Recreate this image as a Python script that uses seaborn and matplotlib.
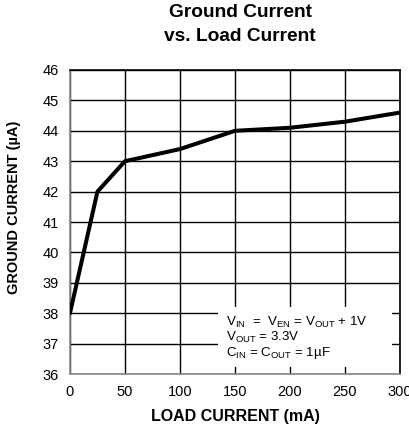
import numpy as np
import pandas as pd
import matplotlib
matplotlib.use("Agg")
import matplotlib.pyplot as plt
from matplotlib.patches import Rectangle
import seaborn as sns

load_ma = [0, 25, 50, 100, 150, 200, 250, 300]
ground_ua = [38.0, 42.0, 43.0, 43.4, 44.0, 44.1, 44.3, 44.6]
x_ticks = [0, 50, 100, 150, 200, 250, 300]
y_ticks = [36, 37, 38, 39, 40, 41, 42, 43, 44, 45, 46]

sns.set_style("white")
plt.rcParams['font.family'] = ['Liberation Sans', 'DejaVu Sans']
plt.rcParams['mathtext.default'] = 'regular'
plt.rcParams['text.color'] = 'black'
plt.rcParams['axes.labelcolor'] = 'black'
plt.rcParams['xtick.color'] = 'black'
plt.rcParams['ytick.color'] = 'black'

df = pd.DataFrame({"load": load_ma, "ground": ground_ua})

fig = plt.figure(figsize=(4.09, 4.32), dpi=100)
ax = fig.add_axes([0.171, 0.134, 0.807, 0.704])

sns.lineplot(data=df, x="load", y="ground", ax=ax, color="black", linewidth=2.9, zorder=3)

ax.set_xlim(0, 300)
ax.set_ylim(36, 46)
ax.set_xticks(x_ticks)
ax.set_yticks(y_ticks)
ax.set_xticklabels([str(v) for v in x_ticks], fontsize=10.5)
ax.set_yticklabels([str(v) for v in y_ticks], fontsize=10.5)
ax.tick_params(axis="x", length=0, pad=8)
ax.tick_params(axis="y", length=0, pad=8)
ax.grid(True, color="black", linewidth=1.0, zorder=1)
ax.set_axisbelow(True)

for side in ["top", "right"]:
    ax.spines[side].set_color("black")
    ax.spines[side].set_linewidth(1.2)
for side in ["left", "bottom"]:
    ax.spines[side].set_color("#888888")
    ax.spines[side].set_linewidth(1.2)

ax.set_xlabel("LOAD CURRENT (mA)", fontsize=11.5, fontweight="bold", labelpad=7)
ax.set_ylabel("GROUND CURRENT (\u00b5A)", fontsize=10.5, fontweight="bold")
ax.yaxis.set_label_coords(-0.148, 0.549)

fig.text(0.587, 0.970, "Ground Current", ha="center", va="center",
         fontsize=13.8, fontweight="bold")
fig.text(0.587, 0.916, "vs. Load Current", ha="center", va="center",
         fontsize=13.8, fontweight="bold")

# white panel behind the conditions note (grid is cut there)
ax.add_patch(Rectangle((0.448, 0.023), 0.528, 0.197, transform=ax.transAxes,
                       facecolor="white", edgecolor="none", zorder=2))

note = ("V$_{IN}$  =  V$_{EN}$ = V$_{OUT}$ + 1V\n"
        "V$_{OUT}$ = 3.3V\n"
        "C$_{IN}$ = C$_{OUT}$ = 1\u00b5F")
ax.text(0.474, 0.118, note, transform=ax.transAxes, fontsize=9.6, va="center", ha="left",
        linespacing=0.98, zorder=4)

fig.savefig("out.png", dpi=100)
